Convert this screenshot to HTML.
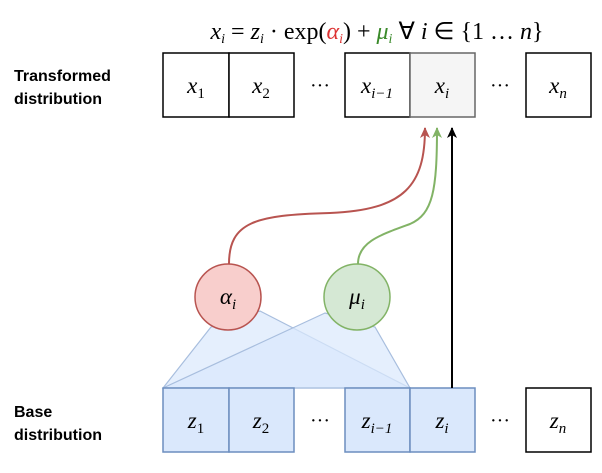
<!DOCTYPE html>
<html><head><style>
body{margin:0;background:#fff;}
svg text{font-family:"Liberation Serif",serif;}
.lbl{font-family:"Liberation Sans",sans-serif;font-weight:bold;font-size:16px;}
.m{font-style:italic;font-size:23px;}
</style></head><body>
<svg width="602" height="468" viewBox="0 0 602 468" xmlns="http://www.w3.org/2000/svg">
<defs>
<marker id="ar" markerWidth="12" markerHeight="12" refX="10" refY="5" orient="auto" markerUnits="userSpaceOnUse"><path d="M0,0 L11,5 L0,10 L3,5 Z" fill="#b85450"/></marker>
<marker id="ag" markerWidth="12" markerHeight="12" refX="10" refY="5" orient="auto" markerUnits="userSpaceOnUse"><path d="M0,0 L11,5 L0,10 L3,5 Z" fill="#82b366"/></marker>
<marker id="ak" markerWidth="12" markerHeight="12" refX="10" refY="5" orient="auto" markerUnits="userSpaceOnUse"><path d="M0,0 L11,5 L0,10 L3,5 Z" fill="#000"/></marker>
</defs>
<text x="377" y="39" text-anchor="middle" font-size="24" font-style="italic">x<tspan font-size="14" baseline-shift="-4">i</tspan><tspan font-style="normal"> = </tspan>z<tspan font-size="14" baseline-shift="-4">i</tspan><tspan font-style="normal"> · exp(</tspan><tspan fill="#d33">α<tspan font-size="14" baseline-shift="-4">i</tspan></tspan><tspan font-style="normal">) + </tspan><tspan fill="#3a8a2a">μ<tspan font-size="14" baseline-shift="-4">i</tspan></tspan><tspan font-style="normal">  ∀ </tspan>i<tspan font-style="normal"> ∈ {1 … </tspan>n<tspan font-style="normal">}</tspan></text>
<text class="lbl" x="14" y="81">Transformed</text>
<text class="lbl" x="14" y="104">distribution</text>
<text class="lbl" x="14" y="417">Base</text>
<text class="lbl" x="14" y="440">distribution</text>
<g stroke="#000" stroke-width="1.5" fill="#fff">
<rect x="163" y="53" width="66" height="64"/><rect x="229" y="53" width="65" height="64"/>
<rect x="345" y="53" width="65" height="64"/>
<rect x="526" y="53" width="65" height="64"/>
</g>
<rect x="410" y="53" width="65" height="64" fill="#f5f5f5" stroke="#666" stroke-width="1.5"/>
<text x="196" y="93" text-anchor="middle" class="m">x<tspan font-size="15" baseline-shift="-5" font-style="normal">1</tspan></text>
<text x="261" y="93" text-anchor="middle" class="m">x<tspan font-size="15" baseline-shift="-5" font-style="normal">2</tspan></text>
<text x="377" y="93" text-anchor="middle" class="m">x<tspan font-size="15" baseline-shift="-5">i−1</tspan></text>
<text x="442" y="93" text-anchor="middle" class="m">x<tspan font-size="15" baseline-shift="-5">i</tspan></text>
<text x="558" y="93" text-anchor="middle" class="m">x<tspan font-size="15" baseline-shift="-5">n</tspan></text>
<text x="320" y="92" text-anchor="middle" font-size="20">···</text>
<text x="500" y="92" text-anchor="middle" font-size="20">···</text>
<polygon points="211,327 163,388 410,388 260,311" fill="#dae8fc" fill-opacity="0.7" stroke="#a8bede" stroke-width="1.2"/>
<polygon points="325,313 163,388 410,388 375,327" fill="#dae8fc" fill-opacity="0.7" stroke="#a8bede" stroke-width="1.2"/>
<g stroke="#6c8ebf" stroke-width="1.5" fill="#dae8fc">
<rect x="163" y="388" width="66" height="64"/><rect x="229" y="388" width="65" height="64"/>
<rect x="345" y="388" width="65" height="64"/><rect x="410" y="388" width="65" height="64"/>
</g>
<rect x="526" y="388" width="65" height="64" fill="#fff" stroke="#000" stroke-width="1.5"/>
<text x="196" y="428" text-anchor="middle" class="m">z<tspan font-size="15" baseline-shift="-5" font-style="normal">1</tspan></text>
<text x="261" y="428" text-anchor="middle" class="m">z<tspan font-size="15" baseline-shift="-5" font-style="normal">2</tspan></text>
<text x="377" y="428" text-anchor="middle" class="m">z<tspan font-size="15" baseline-shift="-5">i−1</tspan></text>
<text x="442" y="428" text-anchor="middle" class="m">z<tspan font-size="15" baseline-shift="-5">i</tspan></text>
<text x="558" y="428" text-anchor="middle" class="m">z<tspan font-size="15" baseline-shift="-5">n</tspan></text>
<text x="320" y="427" text-anchor="middle" font-size="20">···</text>
<text x="500" y="427" text-anchor="middle" font-size="20">···</text>
<path d="M229,264 C229,222 255,215 330,213 C405,210 425,185 425,128" fill="none" stroke="#b85450" stroke-width="2" marker-end="url(#ar)"/>
<path d="M358,264 C358,242 380,235 410,224 C433,214 437,190 437,128" fill="none" stroke="#82b366" stroke-width="2" marker-end="url(#ag)"/>
<path d="M452,388 L452,128" fill="none" stroke="#000" stroke-width="2" marker-end="url(#ak)"/>
<circle cx="228" cy="297" r="33" fill="#f8cecc" stroke="#b85450" stroke-width="1.5"/>
<circle cx="357" cy="297" r="33" fill="#d5e8d4" stroke="#82b366" stroke-width="1.5"/>
<text x="228" y="304" text-anchor="middle" class="m">α<tspan font-size="15" baseline-shift="-5">i</tspan></text>
<text x="357" y="304" text-anchor="middle" class="m">μ<tspan font-size="15" baseline-shift="-5">i</tspan></text>
</svg>
</body></html>
